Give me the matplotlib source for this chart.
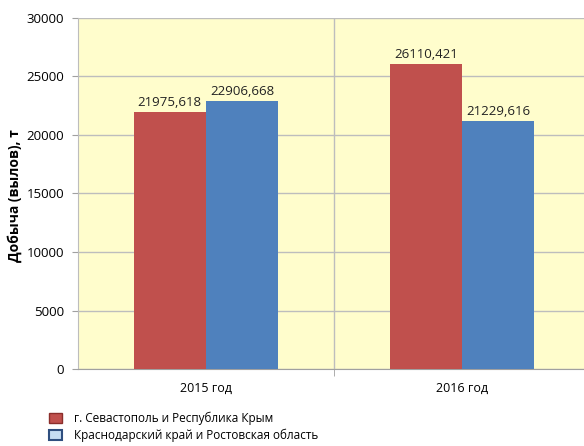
import numpy as np
import matplotlib.pyplot as plt
from matplotlib.patches import Patch

years = ['2015 год', '2016 год']
crimea = [21975.618, 26110.421]
krasnodar = [22906.668, 21229.616]
series_names = ['г. Севастополь и Республика Крым',
                'Краснодарский край и Ростовская область']
crimea_labels = ['21975,618', '26110,421']
krasnodar_labels = ['22906,668', '21229,616']

plt.rcParams['font.family'] = ['Open Sans', 'DejaVu Sans']

fig = plt.figure(figsize=(5.84, 4.46), dpi=100)
ax = fig.add_axes([78/584, 77/446, 512/584, 351/446])
ax.set_facecolor('#FFFDCC')

x = np.arange(len(years))
w = 0.283
red = '#C0504D'
blue = '#4F81BD'
b1 = ax.bar(x - w/2, crimea, w, color=red, zorder=3)
b2 = ax.bar(x + w/2, krasnodar, w, color=blue, zorder=3)
ax.bar_label(b1, labels=crimea_labels, padding=2, fontsize=9.5, color='#222222')
ax.bar_label(b2, labels=krasnodar_labels, padding=2, fontsize=9.5, color='#222222')

ax.set_xlim(-0.5, 1.5)
ax.set_ylim(0, 30000)
ax.set_yticks(np.arange(0, 30001, 5000))
ax.set_xticks([0.5], minor=True)
ax.set_xticks(x)
ax.set_xticklabels(years, fontsize=9)
ax.tick_params(axis='x', which='major', length=0, pad=9)
ax.tick_params(axis='x', which='minor', length=5, color='#A0A0A0')
ax.tick_params(axis='y', length=4, color='#A0A0A0', labelsize=9.5, pad=6)
ax.grid(axis='y', color='#BDBDBD', linewidth=1, zorder=0)
ax.grid(axis='x', which='minor', color='#BDBDBD', linewidth=1, zorder=0)
for s in ['top', 'right']:
    ax.spines[s].set_visible(False)
ax.spines['left'].set_color('#BDBDBD')
ax.spines['bottom'].set_color('#A0A0A0')

fig.text(15/584, 250/446, 'Добыча (вылов), т', rotation=90, ha='center', va='center',
         fontsize=10, fontweight='bold')

handles = [Patch(facecolor=red, edgecolor='#8B2E2B'),
           Patch(facecolor='#C6DDF2', edgecolor='#2F4F7F', linewidth=1.5)]
fig.legend(handles, series_names, loc='upper left', bbox_to_anchor=(40/584, 1 - 402/446),
           frameon=False, fontsize=8.5, handlelength=1.1, handleheight=0.9,
           handletextpad=1.0, labelspacing=0.35, borderpad=0.3)

fig.savefig('out.png', dpi=100, facecolor='white')
